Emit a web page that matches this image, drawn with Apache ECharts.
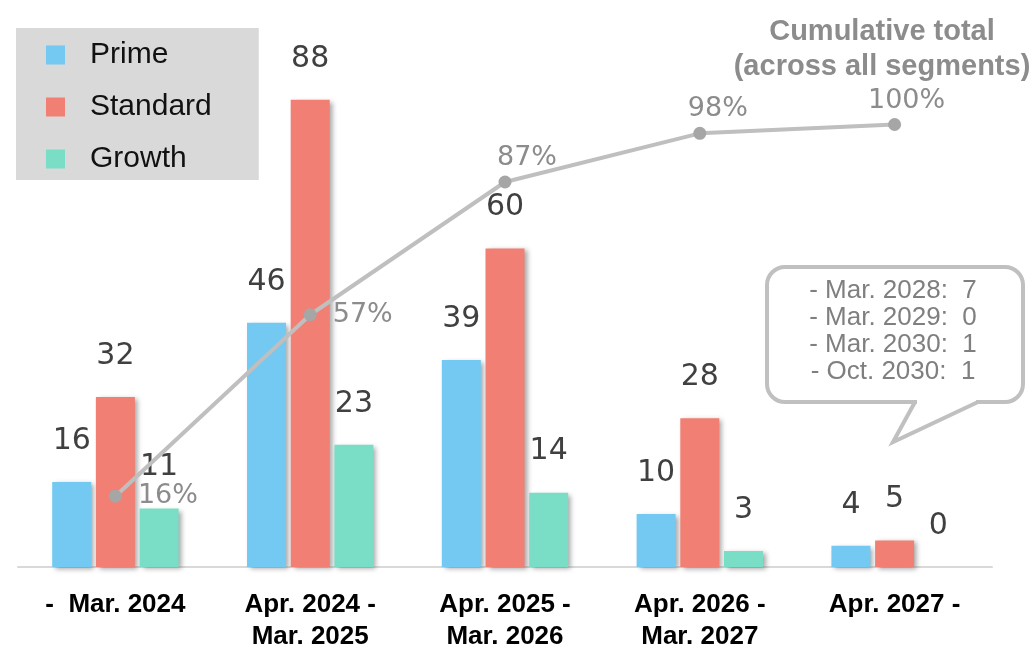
<!DOCTYPE html>
<html>
<head>
<meta charset="utf-8">
<script src="https://cdn.jsdelivr.net/npm/echarts@6/dist/echarts.min.js"></script>
<style>
  html, body { margin: 0; padding: 0; background: #ffffff; }
  #chart { width: 1035px; height: 646px; }
</style>
</head>
<body>
<div id="chart"></div>
<script>
const categories = ['-  Mar. 2024', 'Apr. 2024 -\nMar. 2025', 'Apr. 2025 -\nMar. 2026', 'Apr. 2026 -\nMar. 2027', 'Apr. 2027 -'];
const primeValues = [16, 46, 39, 10, 4];
const standardValues = [32, 88, 60, 28, 5];
const growthValues = [11, 23, 14, 3, 0];
const cumulativePct = [16, 57, 87, 98, 100];
const calloutLines = ['- Mar. 2028:  7', '- Mar. 2029:  0', '- Mar. 2030:  1', '- Oct. 2030:  1'];
const titleLines = ['Cumulative total', '(across all segments)'];

const colors = { prime: '#73c9f1', standard: '#f17f73', growth: '#7addc5' };
const pctLabelStyle = [
  { position: 'right', distance: 16, offset: [0, 0] },
  { position: 'right', distance: 16, offset: [0, 0] },
  { position: 'top', distance: 4, offset: [22, 0] },
  { position: 'top', distance: 4, offset: [18, 0] },
  { position: 'top', distance: 4, offset: [12, 0] }
];

const chart = echarts.init(document.getElementById('chart'), null, { renderer: 'canvas' });

const barShadow = {
  shadowColor: 'rgba(0,0,0,0.35)',
  shadowBlur: 5,
  shadowOffsetX: 3,
  shadowOffsetY: 2
};
const barLabel = {
  show: true,
  position: 'top',
  distance: 26,
  fontFamily: 'DejaVu Sans',
  fontSize: 30,
  color: '#404040'
};

function barSeries(name, data, color) {
  return {
    name: name,
    type: 'bar',
    data: data,
    barWidth: 39,
    barGap: '12%',
    itemStyle: Object.assign({ color: color }, barShadow),
    label: barLabel,
    emphasis: { disabled: true }
  };
}

const calloutStroke = '#c0c0c0';

const option = {
  animation: false,
  backgroundColor: '#ffffff',
  grid: { left: 18, right: 43, top: 36, bottom: 79, containLabel: false, outerBoundsMode: 'none' },
  legend: {
    orient: 'vertical',
    left: 16,
    top: 28,
    backgroundColor: '#d9d9d9',
    padding: [10, 47, 4, 30],
    itemWidth: 19,
    itemHeight: 19,
    itemGap: 18,
    icon: 'rect',
    data: ['Prime', 'Standard', 'Growth'],
    textStyle: {
      fontFamily: 'Liberation Sans',
      fontSize: 30,
      lineHeight: 34,
      color: '#111111',
      padding: [0, 0, 0, 20]
    }
  },
  xAxis: {
    type: 'category',
    data: categories,
    axisLine: { show: true, lineStyle: { color: '#d9d9d9', width: 2 } },
    axisTick: { show: false },
    axisLabel: {
      interval: 0,
      margin: 22,
      fontFamily: 'Liberation Sans',
      fontWeight: 'bold',
      fontSize: 26,
      lineHeight: 32,
      color: '#000000'
    }
  },
  yAxis: [
    { type: 'value', min: 0, max: 100, show: false, splitLine: { show: false } },
    { type: 'value', min: 0, max: 120, show: false, splitLine: { show: false } }
  ],
  series: [
    barSeries('Prime', primeValues, colors.prime),
    barSeries('Standard', standardValues, colors.standard),
    barSeries('Growth', growthValues, colors.growth),
    {
      name: 'Cumulative',
      type: 'line',
      yAxisIndex: 1,
      data: cumulativePct.map((v, i) => ({ value: v, label: pctLabelStyle[i] })),
      symbol: 'circle',
      symbolSize: 13,
      lineStyle: { color: '#bfbfbf', width: 4 },
      itemStyle: { color: '#a6a6a6' },
      label: {
        show: true,
        formatter: '{c}%',
        fontFamily: 'DejaVu Sans',
        fontSize: 27,
        color: '#8c8c8c'
      },
      emphasis: { disabled: true },
      z: 5
    }
  ],
  graphic: [
    {
      type: 'text',
      x: 882,
      y: 14,
      style: {
        text: titleLines.join('\n'),
        align: 'center',
        verticalAlign: 'top',
        fontFamily: 'Liberation Sans',
        fontWeight: 'bold',
        fontSize: 29,
        lineHeight: 35,
        fill: '#8c8c8c'
      }
    },
    {
      type: 'rect',
      shape: { x: 767, y: 267, width: 256, height: 135, r: 18 },
      style: { fill: '#ffffff', stroke: calloutStroke, lineWidth: 4 },
      z: 10
    },
    {
      type: 'rect',
      shape: { x: 917, y: 398, width: 59, height: 7 },
      style: { fill: '#ffffff' },
      z: 11
    },
    {
      type: 'polyline',
      shape: { points: [[915, 402], [893, 442], [978, 402]] },
      style: { stroke: calloutStroke, lineWidth: 4, fill: null, lineJoin: 'miter' },
      z: 12
    },
    {
      type: 'text',
      x: 893,
      y: 277,
      style: {
        text: calloutLines.join('\n'),
        align: 'center',
        verticalAlign: 'top',
        fontFamily: 'Liberation Sans',
        fontSize: 26,
        lineHeight: 27,
        fill: '#7f7f7f'
      },
      z: 13
    }
  ]
};

chart.setOption(option);
</script>
</body>
</html>
